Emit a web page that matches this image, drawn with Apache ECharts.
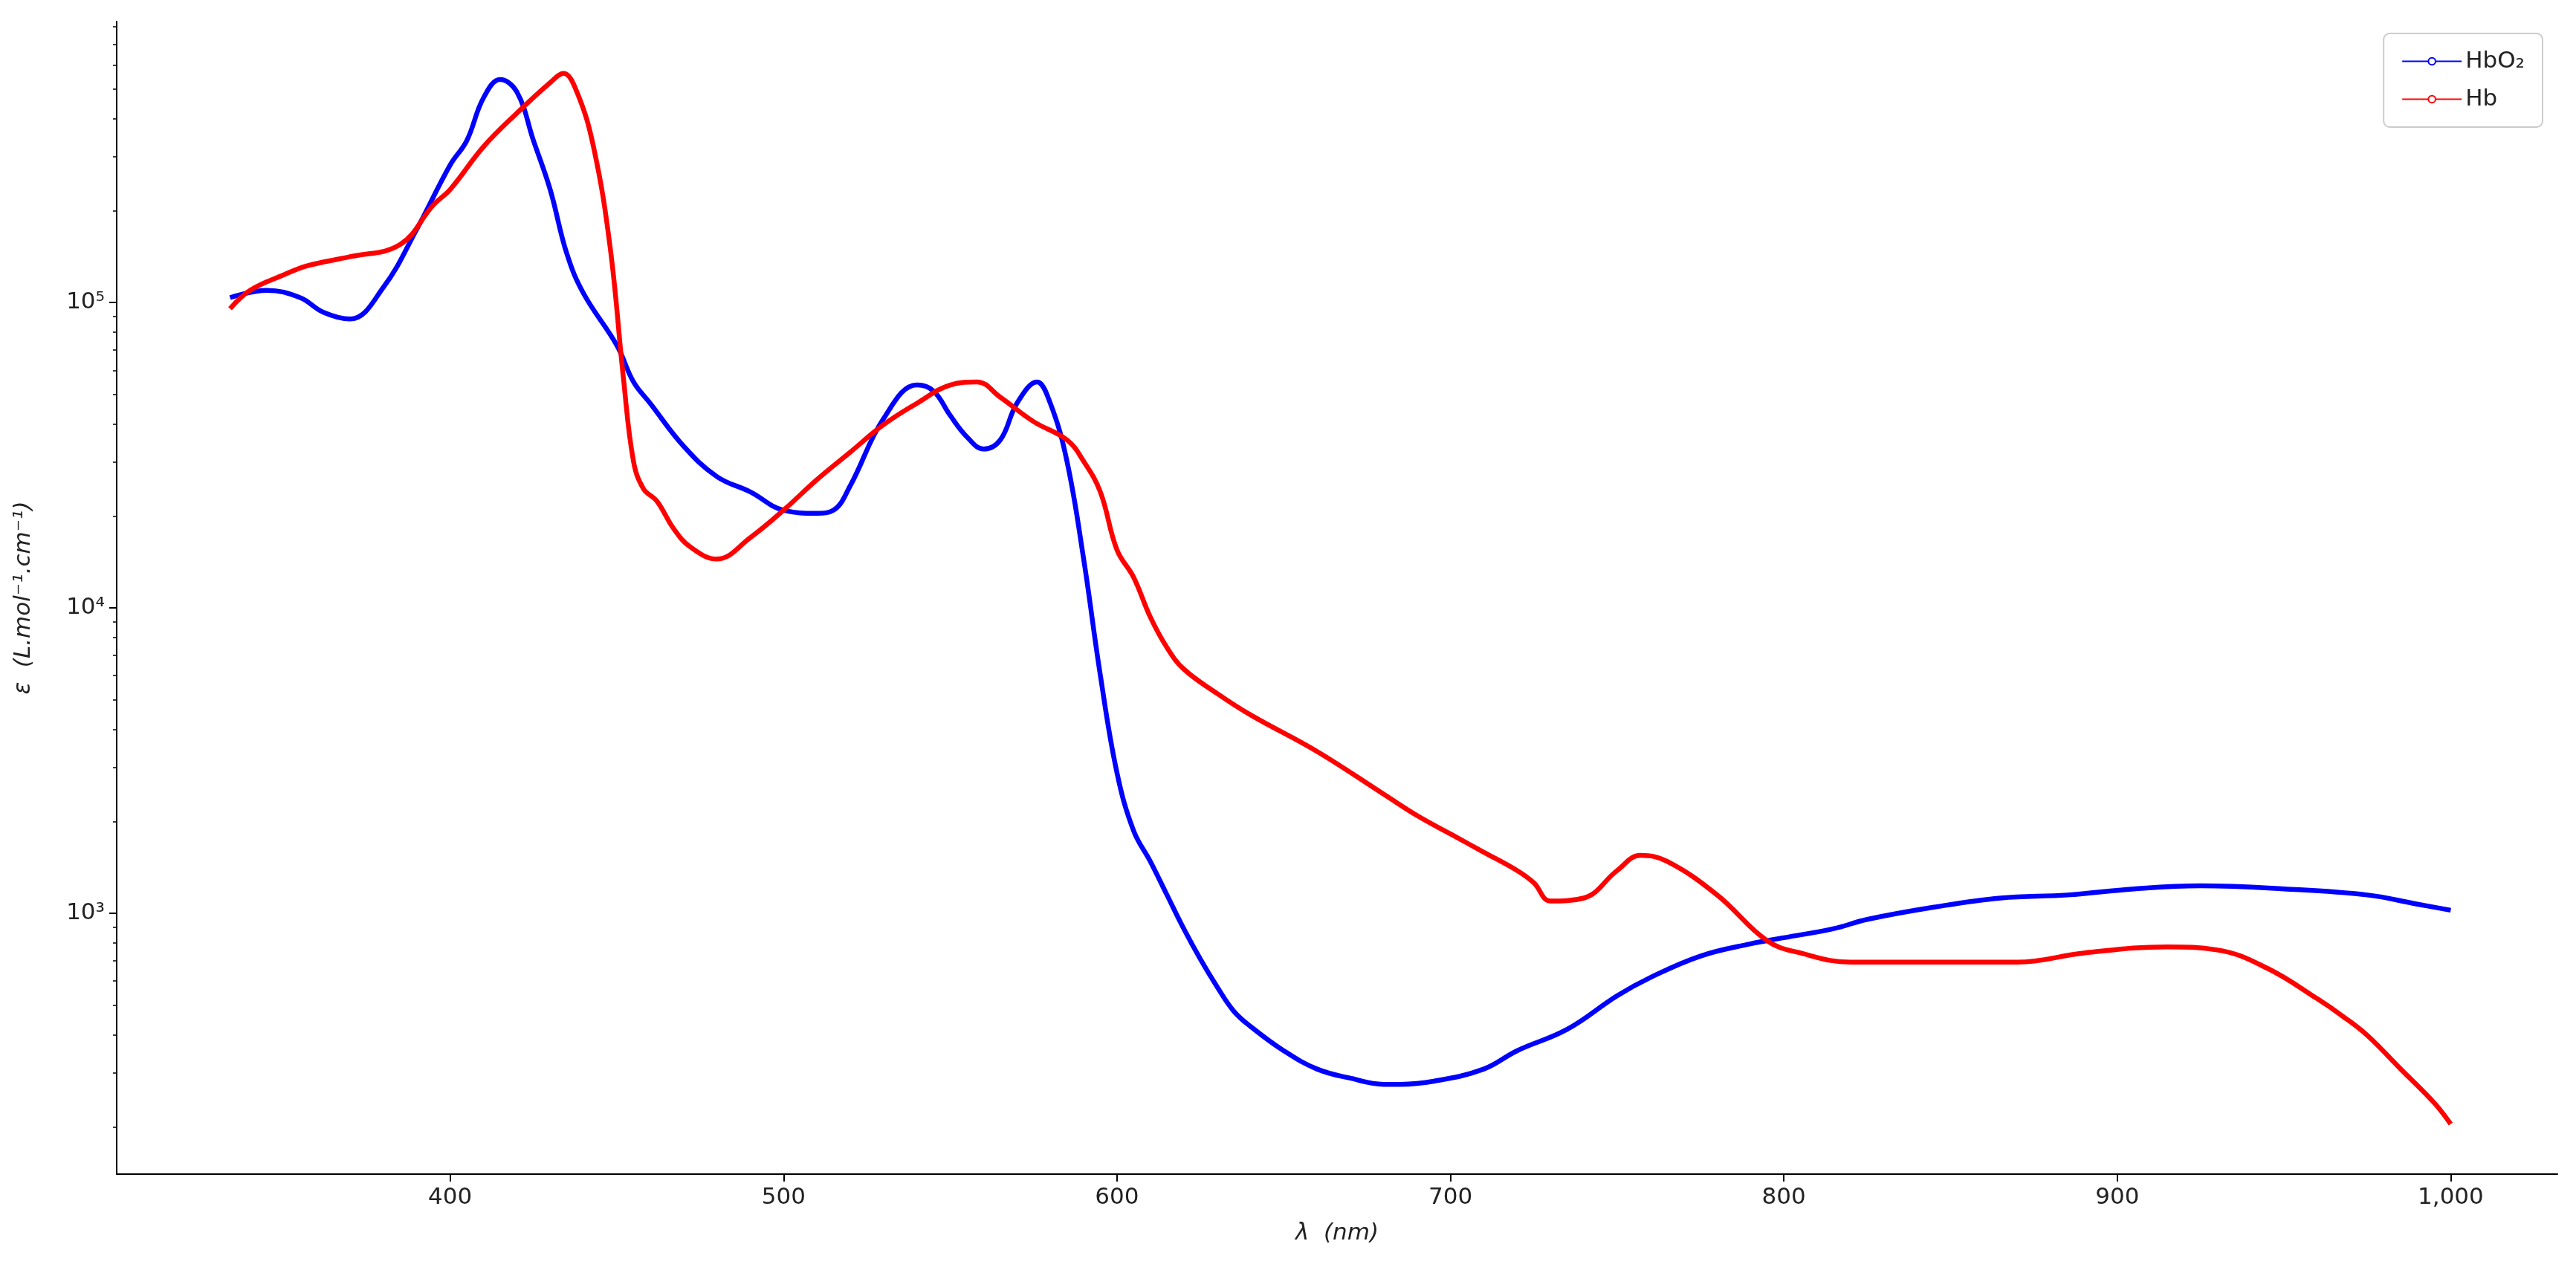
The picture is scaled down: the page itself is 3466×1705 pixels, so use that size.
<!DOCTYPE html>
<html>
<head>
<meta charset="utf-8">
<script src="https://cdn.jsdelivr.net/npm/echarts@6/dist/echarts.min.js"></script>
<style>html,body{margin:0;background:#fff}#chart{width:3466px;height:1705px}</style>
</head>
<body>
<div id="chart"></div>
<script>
// wavelength (nm) and log10(epsilon)
var hbo2Nm = [334,345,355,362,370,380,390,400,405,410,415,420,425,430,435,440,450,455,460,470,480,490,500,510,515,520,530,540,545,550,555,560,565,570,576,580,585,590,595,600,605,610,615,620,625,630,635,640,650,660,670,680,685,695,710,720,735,750,760,775,790,800,815,825,845,865,885,905,925,950,975,990,1000];
var hbo2Log = [5.016,5.04,5.016,4.968,4.946,5.05,5.24,5.45,5.53,5.67,5.73,5.69,5.53,5.37,5.16,5.03,4.86,4.74,4.67,4.53,4.43,4.38,4.32,4.31,4.32,4.40,4.62,4.73,4.71,4.63,4.56,4.52,4.55,4.67,4.74,4.67,4.48,4.16,3.78,3.46,3.27,3.17,3.06,2.95,2.85,2.76,2.68,2.63,2.55,2.49,2.46,2.44,2.44,2.45,2.49,2.55,2.62,2.73,2.79,2.86,2.90,2.92,2.95,2.98,3.02,3.05,3.06,3.08,3.09,3.08,3.06,3.03,3.01];
var hbNm = [334,340,350,357,370,385,395,400,410,420,430,434,438,443,448,452,455,458,462,467,472,480,490,500,510,520,530,540,550,558,565,575,585,590,595,600,605,610,615,620,630,640,660,680,690,700,710,720,725,730,740,750,757,765,780,795,805,820,850,870,890,915,930,945,960,968,975,985,995,1000];
var hbLog = [4.98,5.04,5.09,5.12,5.15,5.19,5.32,5.37,5.51,5.62,5.72,5.75,5.69,5.51,5.18,4.75,4.48,4.39,4.35,4.26,4.20,4.16,4.23,4.32,4.42,4.51,4.60,4.67,4.73,4.74,4.69,4.61,4.55,4.48,4.38,4.19,4.10,3.97,3.87,3.80,3.72,3.65,3.53,3.39,3.32,3.26,3.20,3.14,3.10,3.04,3.05,3.14,3.19,3.17,3.06,2.91,2.87,2.84,2.84,2.84,2.87,2.89,2.88,2.82,2.72,2.66,2.60,2.49,2.38,2.31];
var xTicks = [400,500,600,700,800,900,1000];
var yMajor = [3,4,5];

var yMin = 2.146, yMax = 5.92;
var yMinor = [];
for (var n = 2; n <= 5; n++) {
    for (var k = 2; k <= 9; k++) {
        var v = n + Math.log10(k);
        if (v > yMin && v < yMax) yMinor.push(v);
    }
}
var sup = {'-':'\u207b','0':'\u2070','1':'\u00b9','2':'\u00b2','3':'\u00b3','4':'\u2074','5':'\u2075'};
function pairs(xs, ys) {
    var out = [];
    for (var i = 0; i < xs.length; i++) out.push([xs[i], ys[i]]);
    return out;
}
var font = 'DejaVu Sans';
var chart = echarts.init(document.getElementById('chart'));
chart.setOption({
    animation: false,
    textStyle: {fontFamily: font},
    grid: {left: 157, right: 25, top: 29, bottom: 125},
    legend: {
        top: 45, right: 45, orient: 'vertical',
        itemWidth: 80, itemHeight: 12, itemGap: 20,
        padding: [22, 24], borderColor: '#ccc', borderWidth: 2, borderRadius: 8,
        textStyle: {fontSize: 31, color: '#222'},
        data: ['HbO\u2082', 'Hb']
    },
    xAxis: {
        type: 'value', min: 300, max: 1032,
        name: '\u03bb  (nm)', nameLocation: 'middle', nameGap: 64,
        nameTextStyle: {fontSize: 31, fontStyle: 'italic', color: '#222'},
        axisLine: {lineStyle: {color: '#000', width: 2}},
        axisTick: {customValues: xTicks, length: 10, lineStyle: {color: '#000', width: 2}},
        axisLabel: {customValues: xTicks, fontSize: 31, color: '#222', margin: 16},
        splitLine: {show: false}
    },
    yAxis: [{
        type: 'value', min: yMin, max: yMax,
        name: '\u03b5  (L.mol\u207b\u00b9.cm\u207b\u00b9)', nameLocation: 'middle', nameGap: 110, nameRotate: 90,
        nameTextStyle: {fontSize: 31, fontStyle: 'italic', color: '#222'},
        axisLine: {show: true, lineStyle: {color: '#000', width: 2}},
        axisTick: {customValues: yMajor, length: 10, lineStyle: {color: '#000', width: 2}},
        axisLabel: {customValues: yMajor, fontSize: 31, color: '#222', margin: 16,
            formatter: function (v) { return '10' + String(Math.round(v)).split('').map(function (c) { return sup[c]; }).join(''); }},
        splitLine: {show: false}
    }, {
        type: 'value', min: yMin, max: yMax, position: 'left',
        axisLine: {show: false},
        axisTick: {customValues: yMinor, length: 5, lineStyle: {color: '#000', width: 1.5}},
        axisLabel: {show: false},
        splitLine: {show: false}
    }],
    series: [{
        name: 'HbO\u2082', type: 'line', smooth: 0.4, showSymbol: false,
        color: '#0000ff', lineStyle: {width: 6.5},
        data: pairs(hbo2Nm, hbo2Log)
    }, {
        name: 'Hb', type: 'line', smooth: 0.4, showSymbol: false,
        color: '#ff0000', lineStyle: {width: 6.5},
        data: pairs(hbNm, hbLog)
    }]
});
</script>
</body>
</html>
